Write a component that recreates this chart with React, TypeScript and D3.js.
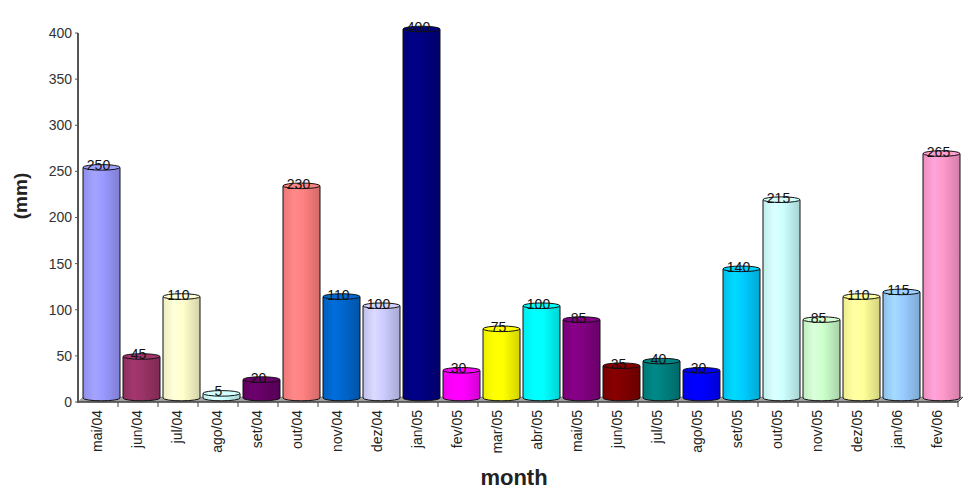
import * as d3 from "d3";

const months = [
  "mai/04", "jun/04", "jul/04", "ago/04", "set/04", "out/04", "nov/04", "dez/04",
  "jan/05", "fev/05", "mar/05", "abr/05", "mai/05", "jun/05", "jul/05", "ago/05",
  "set/05", "out/05", "nov/05", "dez/05", "jan/06", "fev/06",
];
const rainfall = [
  250, 45, 110, 5, 20, 230, 110, 100, 400, 30, 75, 100, 85, 35, 40, 30, 140, 215, 85, 110, 115, 265,
];
const barColors = [
  "#9999ff", "#993366", "#ffffcc", "#ccffff", "#660066", "#ff8080", "#0066cc", "#ccccff",
  "#000080", "#ff00ff", "#ffff00", "#00ffff", "#800080", "#800000", "#008080", "#0000ff",
  "#00ccff", "#ccffff", "#ccffcc", "#ffff99", "#99ccff", "#ff99cc",
];
const yTicks = [0, 50, 100, 150, 200, 250, 300, 350, 400];

const W = 968;
const H = 495;
const DX = 5; // 3d depth offset
const DY = 5;

const App = () => {
  const x = d3.scaleBand<string>().domain(months).range([78, 958]).padding(0);
  const y = d3.scaleLinear().domain([0, 400]).range([402, 33]);
  const bw = x.bandwidth() - 3;
  const ry = 2.8;
  const y0 = y(0);

  return (
    <svg
      width={W}
      height={H}
      style={{ position: "absolute", left: 0, top: 0, background: "#fff" }}
      fontFamily="Liberation Sans, Arial, sans-serif"
    >
      <defs>
        {barColors.map((c, i) => (
          <linearGradient id={`g${i}`} key={i} x1="0" x2="1" y1="0" y2="0">
            <stop offset="0" stopColor={d3.color(c)!.darker(0.2).toString()} />
            <stop offset="0.3" stopColor={d3.color(c)!.brighter(0.2).toString()} />
            <stop offset="0.55" stopColor={c} />
            <stop offset="1" stopColor={d3.color(c)!.darker(0.55).toString()} />
          </linearGradient>
        ))}
      </defs>

      {/* floor */}
      <polygon
        points={`78,${y0} ${78 + DX},${y0 - DY} ${958 + DX},${y0 - DY} 958,${y0}`}
        fill="#a0a0a0"
        stroke="#888"
        strokeWidth={0.5}
      />
      <line x1={78} x2={958} y1={y0} y2={y0} stroke="#444" strokeWidth={1.5} />
      <line x1={958} x2={958 + DX} y1={y0} y2={y0 - DY} stroke="#444" strokeWidth={1} />

      {/* y axis */}
      <line x1={78} x2={78} y1={y(400)} y2={y0 + 1} stroke="#555" strokeWidth={2} />
      {yTicks.map((t) => (
        <g key={t}>
          <line x1={75} x2={78} y1={y(t)} y2={y(t)} stroke="#555" strokeWidth={1} />
          <text x={72} y={y(t)} dy="0.35em" textAnchor="end" fontSize={14} fill="#333">
            {t}
          </text>
        </g>
      ))}

      {/* x ticks */}
      {months.map((m) => (
        <line
          key={`t${m}`}
          x1={(x(m) as number) + x.bandwidth()}
          x2={(x(m) as number) + x.bandwidth()}
          y1={y0}
          y2={y0 + 5}
          stroke="#444"
          strokeWidth={1}
        />
      ))}

      {/* bars */}
      {months.map((m, i) => {
        const left = (x(m) as number) + DX;
        const cx = left + bw / 2;
        const top = y(rainfall[i]) - DY + 1;
        const bottom = y0 - DY + 1;
        return (
          <g key={m}>
            <path
              d={`M${left},${top} L${left},${bottom} A${bw / 2},${ry} 0 0 0 ${left + bw},${bottom} L${left + bw},${top} Z`}
              fill={`url(#g${i})`}
              stroke="#111"
              strokeWidth={1}
            />
            <ellipse
              cx={cx}
              cy={top}
              rx={bw / 2}
              ry={ry}
              fill={d3.color(barColors[i])!.brighter(0.1).toString()}
              stroke="#111"
              strokeWidth={1}
            />
            <text x={cx - 3} y={top + 3} textAnchor="middle" fontSize={14} fill="#111">
              {rainfall[i]}
            </text>
          </g>
        );
      })}

      {/* x labels */}
      {months.map((m) => (
        <text
          key={`l${m}`}
          transform={`translate(${(x(m) as number) + x.bandwidth() / 2 - 1},410) rotate(-90)`}
          dy="0.35em"
          textAnchor="end"
          fontSize={14}
          fill="#222"
        >
          {m}
        </text>
      ))}

      <text
        transform="translate(20,196) rotate(-90)"
        dy="0.35em"
        textAnchor="middle"
        fontSize={19}
        fontWeight="bold"
        fill="#222"
      >
        (mm)
      </text>
      <text x={514} y={485} textAnchor="middle" fontSize={22} fontWeight="bold" fill="#222">
        month
      </text>
    </svg>
  );
};

export default App;
